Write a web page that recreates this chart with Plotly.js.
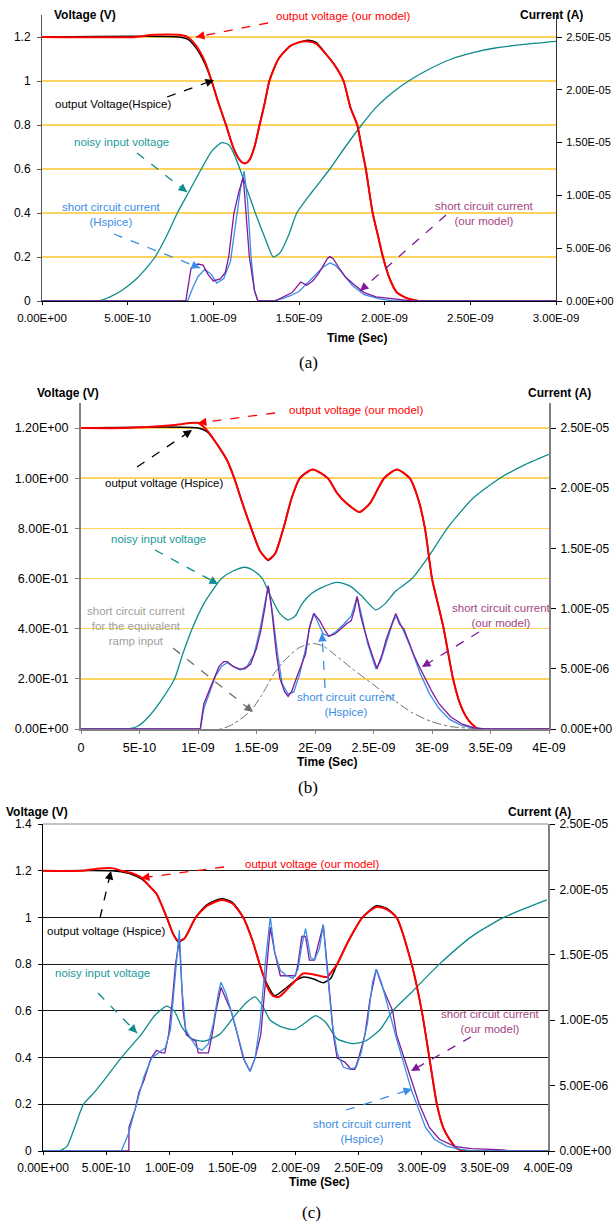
<!DOCTYPE html>
<html>
<head>
<meta charset="utf-8">
<script src="https://cdn.plot.ly/plotly-3.0.1.min.js"></script>
<style>html,body{margin:0;padding:0;background:#fff;}#chart{width:616px;height:1222px;}</style>
</head>
<body>
<div id="chart"></div>
<script>
// ===================== DATA =====================
// time in ns, voltage in V, current in microamperes (µA)

// ---- Panel (a) ----
const tA_in   = [0,0.33,0.40,0.47,0.55,0.62,0.66,0.73,0.79,0.86,0.93,0.99,1.05,1.09,1.12,1.155,1.20,1.245,1.30,1.35,1.39,1.44,1.487,1.58,1.68,1.77,1.865,1.95,2.05,2.14,2.25,2.39,2.52,2.645,2.80,3.0];
const vA_in   = [0,0,0.02,0.05,0.1,0.16,0.2,0.3,0.4,0.5,0.6,0.68,0.72,0.71,0.67,0.6,0.5,0.4,0.29,0.2,0.22,0.3,0.4,0.5,0.6,0.7,0.8,0.88,0.95,1.0,1.05,1.1,1.13,1.15,1.165,1.18];
const tA_outModel = [0,0.55,0.65,0.80,0.85,0.90,0.95,0.99,1.03,1.074,1.12,1.16,1.185,1.21,1.24,1.27,1.30,1.327,1.38,1.45,1.52,1.555,1.60,1.66,1.71,1.76,1.80,1.84,1.865,1.89,1.93,1.96,1.99,2.03,2.07,2.11,2.14,2.2,3.0];
const vA_outModel = [1.2,1.2,1.21,1.21,1.2,1.16,1.09,1.0,0.9,0.8,0.69,0.635,0.625,0.64,0.7,0.8,0.9,1.0,1.1,1.16,1.18,1.18,1.17,1.12,1.07,1.0,0.88,0.8,0.7,0.6,0.4,0.3,0.2,0.1,0.04,0.02,0.01,0,0];
const tA_outHsp = [0,0.80,0.85,0.90,0.95,0.99,1.03,1.074,1.12,1.16,1.185,1.21,1.24,1.27,1.30,1.327,1.38,1.45,1.52,1.555,1.60,1.66,1.71,1.76,1.80,1.84,1.865,1.89,1.93,1.96,1.99,2.03,2.07,2.11,2.14,2.2,3.0];
const vA_outHsp = [1.2,1.2,1.19,1.15,1.08,1.0,0.9,0.8,0.69,0.635,0.625,0.64,0.7,0.8,0.9,1.0,1.1,1.16,1.18,1.185,1.175,1.12,1.07,1.0,0.88,0.8,0.7,0.6,0.4,0.3,0.2,0.1,0.04,0.02,0.01,0,0];
const tA_iModel = [0,0.84,0.845,0.87,0.89,0.91,0.94,0.97,1.0,1.04,1.07,1.09,1.12,1.15,1.175,1.19,1.21,1.24,1.26,1.36,1.41,1.46,1.51,1.545,1.58,1.61,1.64,1.665,1.68,1.70,1.735,1.77,1.81,1.88,1.95,2.05,2.16,3.0];
const iA_iModel = [0,0,0.6,3.1,3.3,3.5,3.4,2.5,1.9,2.1,2.7,4.2,8.3,10.4,11.7,8.3,4.2,1.0,0,0,0.4,0.8,1.8,1.5,1.9,2.5,3.3,4.0,4.2,4.0,3.1,2.3,1.7,0.8,0.4,0.2,0,0];
const tA_iHsp = [0,0.85,0.88,0.91,0.95,0.99,1.02,1.06,1.10,1.13,1.16,1.18,1.20,1.22,1.24,1.26,1.35,1.40,1.45,1.50,1.55,1.60,1.64,1.68,1.71,1.74,1.78,1.81,1.88,1.97,2.05,3.0];
const iA_iHsp = [0,0,1.25,2.3,3.0,2.5,1.7,2.1,3.75,7.3,10.8,12.3,9.4,4.2,1.0,0,0,0.2,0.5,0.9,1.7,2.5,3.2,3.6,3.4,2.9,2.1,1.5,0.6,0.2,0,0];

// ---- Panel (b) ----
const tB_in = [0,0.38,0.48,0.58,0.68,0.80,0.87,0.95,1.05,1.12,1.2,1.3,1.40,1.48,1.55,1.62,1.70,1.77,1.83,1.89,1.97,2.06,2.19,2.30,2.40,2.52,2.60,2.69,2.83,2.96,3.13,3.35,3.58,3.8,4.0];
const vB_in = [0,0,0.01,0.05,0.11,0.2,0.3,0.4,0.5,0.55,0.6,0.63,0.645,0.63,0.6,0.53,0.46,0.435,0.45,0.5,0.54,0.565,0.585,0.57,0.53,0.475,0.5,0.55,0.6,0.68,0.8,0.92,1.0,1.055,1.095];
const tB_outModel = [0,0.38,0.6,0.8,1.0,1.08,1.185,1.25,1.31,1.38,1.455,1.53,1.60,1.66,1.73,1.80,1.87,1.98,2.11,2.19,2.27,2.38,2.47,2.59,2.70,2.81,2.88,2.94,3.0,3.05,3.10,3.18,3.24,3.29,3.34,3.40,4.0];
const vB_outModel = [1.2,1.2,1.205,1.212,1.22,1.19,1.12,1.07,1.0,0.9,0.8,0.71,0.675,0.7,0.8,0.92,1.0,1.035,1.0,0.94,0.9,0.865,0.9,1.0,1.035,1.0,0.92,0.8,0.6,0.5,0.4,0.2,0.1,0.05,0.02,0,0];
const tB_outHsp = [0,1.0,1.08,1.185,1.25,1.31,1.38,1.455,1.53,1.60,1.66,1.73,1.80,1.87,1.98,2.11,2.19,2.27,2.38,2.47,2.59,2.70,2.81,2.88,2.94,3.0,3.05,3.10,3.18,3.24,3.29,3.34,3.40,4.0];
const vB_outHsp = [1.2,1.2,1.185,1.12,1.07,1.0,0.9,0.8,0.71,0.672,0.7,0.8,0.92,1.0,1.035,1.0,0.94,0.9,0.865,0.9,1.0,1.035,1.0,0.92,0.8,0.6,0.5,0.4,0.2,0.1,0.05,0.02,0,0];
const tB_iModel = [0,1.02,1.03,1.05,1.10,1.14,1.18,1.22,1.25,1.30,1.35,1.40,1.45,1.50,1.54,1.57,1.60,1.625,1.645,1.67,1.70,1.74,1.77,1.80,1.84,1.88,1.92,1.95,1.99,2.04,2.09,2.12,2.17,2.22,2.27,2.31,2.34,2.36,2.39,2.42,2.47,2.53,2.575,2.61,2.64,2.69,2.72,2.76,2.80,2.84,2.89,2.94,3.0,3.06,3.16,3.26,3.36,3.46,4.0];
const iB_iModel = [0,0,0.8,2.1,3.3,4.2,5.2,5.6,5.6,5.2,5.0,5.0,5.4,6.7,8.3,10.0,11.9,10.4,8.3,6.25,4.2,3.1,2.7,3.1,4.2,5.2,6.25,8.3,9.6,9.0,8.1,7.7,7.9,8.3,8.75,9.0,10.0,11.0,9.4,8.3,6.7,5.0,6.25,7.5,8.3,9.6,8.75,8.3,7.3,6.25,5.2,4.2,3.1,2.1,1.0,0.4,0.1,0,0];
const tB_iHsp = [0,1.02,1.05,1.10,1.15,1.20,1.25,1.30,1.36,1.42,1.48,1.53,1.57,1.60,1.64,1.68,1.72,1.77,1.82,1.87,1.92,1.96,1.99,2.03,2.07,2.12,2.18,2.25,2.31,2.36,2.40,2.45,2.52,2.56,2.62,2.67,2.70,2.75,2.82,2.90,2.98,3.06,3.15,3.25,3.35,3.45,4.0];
const iB_iHsp = [0,0,1.7,3.1,4.4,5.2,5.5,5.2,4.9,5.2,6.25,8.3,10.4,11.9,9.4,6.25,3.75,2.9,3.1,4.6,6.7,8.75,9.6,8.75,7.9,7.7,8.1,8.75,9.4,11.0,9.4,7.1,5.0,5.6,7.5,9.0,9.4,8.3,6.7,4.6,2.9,1.7,0.8,0.3,0.1,0,0];
const tB_iRamp = [0,1.19,1.3,1.45,1.55,1.65,1.75,1.855,1.93,1.99,2.07,2.16,2.32,2.49,2.66,2.83,3.0,3.16,3.33,3.5];
const iB_iRamp = [0,0,0.4,1.5,2.9,4.6,5.8,6.7,7.0,7.1,6.9,6.25,5.0,3.75,2.5,1.35,0.6,0.2,0.06,0];

// ---- Panel (c) ----
const tC_in = [0,0.125,0.19,0.25,0.32,0.405,0.48,0.62,0.78,0.885,0.98,1.04,1.10,1.18,1.275,1.40,1.52,1.62,1.68,1.74,1.80,1.895,1.99,2.08,2.16,2.24,2.33,2.455,2.55,2.67,2.77,2.92,3.14,3.4,3.65,3.99];
const vC_in = [0,0,0.02,0.1,0.2,0.25,0.3,0.4,0.5,0.58,0.62,0.6,0.53,0.48,0.47,0.5,0.58,0.64,0.66,0.62,0.56,0.53,0.52,0.55,0.58,0.55,0.48,0.46,0.47,0.52,0.6,0.68,0.8,0.92,1.0,1.075];
const tC_outModel = [0,0.3,0.45,0.56,0.62,0.70,0.78,0.85,0.90,0.98,1.03,1.07,1.12,1.21,1.30,1.415,1.50,1.586,1.66,1.716,1.77,1.82,1.87,1.93,2.0,2.06,2.15,2.25,2.29,2.33,2.42,2.53,2.64,2.72,2.80,2.92,3.0,3.06,3.12,3.17,3.22,3.28,3.36,4.0];
const vC_outModel = [1.2,1.2,1.21,1.21,1.2,1.19,1.17,1.13,1.1,1.0,0.93,0.9,0.91,1.0,1.05,1.075,1.06,1.0,0.9,0.8,0.71,0.665,0.66,0.69,0.73,0.76,0.755,0.745,0.77,0.8,0.9,1.0,1.045,1.035,1.0,0.8,0.6,0.4,0.2,0.1,0.05,0.01,0,0];
const tC_outHsp = [0,0.55,0.62,0.70,0.78,0.85,0.90,0.98,1.03,1.07,1.12,1.21,1.30,1.415,1.50,1.586,1.66,1.716,1.77,1.835,1.93,2.0,2.07,2.15,2.22,2.28,2.33,2.42,2.53,2.64,2.72,2.80,2.92,3.0,3.06,3.12,3.17,3.22,3.28,3.36,4.0];
const vC_outHsp = [1.2,1.2,1.195,1.185,1.165,1.13,1.1,1.0,0.93,0.895,0.91,1.0,1.055,1.08,1.065,1.0,0.9,0.8,0.72,0.665,0.7,0.73,0.745,0.735,0.72,0.74,0.8,0.9,1.0,1.05,1.04,1.0,0.8,0.6,0.4,0.2,0.1,0.05,0.01,0,0];
const tC_iModel = [0,0.68,0.681,0.73,0.76,0.80,0.855,0.90,0.94,0.965,0.995,1.02,1.05,1.08,1.11,1.135,1.17,1.21,1.23,1.31,1.34,1.37,1.41,1.45,1.49,1.54,1.586,1.64,1.68,1.725,1.76,1.80,1.835,1.88,1.93,2.0,2.02,2.05,2.08,2.11,2.15,2.19,2.22,2.25,2.28,2.30,2.33,2.39,2.44,2.47,2.50,2.55,2.59,2.64,2.69,2.77,2.80,2.86,2.92,2.98,3.06,3.14,3.26,3.39,3.64,3.7,4.0];
const iC_iModel = [0,0,1.8,3.2,4.5,5.4,7.1,7.7,7.5,7.5,8.9,11.1,14.3,16.1,10.7,8.9,8.6,8.4,7.5,7.5,8.9,10.7,12.5,11.6,10.7,8.9,7.1,6.1,7.1,8.9,12.5,17.1,15.2,13.4,13.4,13.4,14.3,16.4,16.4,14.6,14.6,16.1,17.3,14.3,10.7,8.9,7.1,6.8,6.25,6.25,7.1,8.9,11.6,13.9,12.5,10.7,8.9,7.1,5.4,3.6,1.8,0.9,0.36,0.18,0.09,0,0];
const tC_iHsp = [0,0.62,0.68,0.74,0.80,0.86,0.92,0.97,1.01,1.04,1.06,1.08,1.10,1.13,1.17,1.22,1.26,1.31,1.35,1.39,1.41,1.45,1.50,1.55,1.60,1.64,1.68,1.72,1.76,1.80,1.835,1.88,1.93,1.98,2.02,2.05,2.08,2.12,2.15,2.19,2.22,2.25,2.29,2.33,2.38,2.43,2.48,2.52,2.57,2.61,2.64,2.68,2.74,2.80,2.86,2.92,2.96,3.03,3.1,3.2,3.3,3.4,4.0];
const iC_iHsp = [0,0,1.4,3.6,5.7,7.1,7.5,7.9,9.3,12.5,15.2,16.9,12.5,9.3,8.6,7.9,7.7,8.2,9.8,12.1,12.9,12.0,10.4,8.6,6.8,6.1,7.1,9.8,14.3,17.9,15.2,13.8,13.4,13.2,13.9,15.7,17.0,14.8,14.6,15.5,17.3,13.9,9.8,7.5,6.4,6.25,6.4,7.5,9.8,12.9,13.9,12.9,10.7,8.6,6.6,4.6,3.6,1.8,0.9,0.36,0.14,0,0];

// ---- Tick labels ----
const xTickA = [0,0.5,1,1.5,2,2.5,3];
const xTextA = ["0.00E+00","5.00E-10","1.00E-09","1.50E-09","2.00E-09","2.50E-09","3.00E-09"];
const xTickBC = [0,0.5,1,1.5,2,2.5,3,3.5,4];
const xTextB = ["0","5E-10","1E-09","1.5E-09","2E-09","2.5E-09","3E-09","3.5E-09","4E-09"];
const xTextC = ["0.00E+00","5.00E-10","1.00E-09","1.50E-09","2.00E-09","2.50E-09","3.00E-09","3.50E-09","4.00E-09"];
const vTickAB = [0,0.2,0.4,0.6,0.8,1.0,1.2];
const vTextA = ["0","0.2","0.4","0.6","0.8","1","1.2"];
const vTextB = ["0.00E+00","2.00E-01","4.00E-01","6.00E-01","8.00E-01","1.00E+00","1.20E+00"];
const vTickC = [0,0.2,0.4,0.6,0.8,1.0,1.2,1.4];
const vTextC = ["0","0.2","0.4","0.6","0.8","1","1.2","1.4"];
const iTick = [0,5,10,15,20,25];
const iText = ["0.00E+00","5.00E-06","1.00E-05","1.50E-05","2.00E-05","2.50E-05"];

// ===================== LAYOUT HELPERS =====================
const W = 616, H = 1222;
const FONT = "Liberation Sans, Arial, sans-serif";
const C = {red:"#FF0000", black:"#000000", teal:"#0E8C8C", tealTxt:"#1C9A9A", blue:"#3A8DE6", purple:"#7F1A9A", purpleTxt:"#A4457F", gray:"#6E6E6E", grayTxt:"#A0A0A0", gold:"#FFD45E"};
const fx = x => x / W, fy = y => 1 - y / H;

const traces = [];
function line(x, y, xa, ya, color, width, shape, dash) {
  traces.push({x, y, xaxis: xa, yaxis: ya, type: "scatter", mode: "lines", showlegend: false, hoverinfo: "skip",
    line: {color, width, shape: shape || "linear", smoothing: 0.6, dash: dash || "solid"}});
}
// (a)
line(tA_in, vA_in, "x", "y", C.teal, 1.3, "spline");
line(tA_iHsp, iA_iHsp, "x", "y2", C.blue, 1.3);
line(tA_iModel, iA_iModel, "x", "y2", C.purple, 1.3);
line(tA_outHsp, vA_outHsp, "x", "y", C.black, 1.5, "spline");
line(tA_outModel, vA_outModel, "x", "y", C.red, 2, "spline");
// (b)
line(tB_in, vB_in, "x2", "y3", C.teal, 1.3, "spline");
line(tB_iRamp, iB_iRamp, "x2", "y4", C.gray, 1, "spline", "dashdot");
line(tB_iHsp, iB_iHsp, "x2", "y4", C.blue, 1.3);
line(tB_iModel, iB_iModel, "x2", "y4", C.purple, 1.3);
line(tB_outHsp, vB_outHsp, "x2", "y3", C.black, 1.5, "spline");
line(tB_outModel, vB_outModel, "x2", "y3", C.red, 2, "spline");
// (c)
line(tC_in, vC_in, "x3", "y5", C.teal, 1.3, "spline");
line(tC_iModel, iC_iModel, "x3", "y6", C.purple, 1.3);
line(tC_iHsp, iC_iHsp, "x3", "y6", C.blue, 1.3);
line(tC_outHsp, vC_outHsp, "x3", "y5", C.black, 1.5, "spline");
line(tC_outModel, vC_outModel, "x3", "y5", C.red, 2, "spline");

const tickFont = s => ({family: FONT, size: s, color: "#000"});
function xAxis(l, r, anchor, vals, text, lineColor, lw, fs) {
  return {domain: [fx(l), fx(r)], range: [0, vals[vals.length-1]], anchor, tickmode: "array", tickvals: vals, ticktext: text,
    showgrid: false, zeroline: false, showline: true, linecolor: lineColor, linewidth: lw, ticks: "outside", ticklen: 3,
    tickcolor: lineColor, tickfont: tickFont(fs), ticklabelstandoff: 3, fixedrange: true};
}
function yAxis(top, bottom, anchor, rangeMax, vals, text, grid, lineColor, lw, fs) {
  return {domain: [fy(bottom), fy(top)], range: [0, rangeMax], anchor, tickmode: "array", tickvals: vals, ticktext: text,
    showgrid: true, gridcolor: grid, gridwidth: 1.5, zeroline: false, showline: true, linecolor: lineColor, linewidth: lw,
    ticks: "outside", ticklen: 4, tickcolor: lineColor, tickfont: tickFont(fs), ticklabelstandoff: 4, fixedrange: true};
}
function yRight(overlay, anchor, rangeMax, lineColor, lw, fs) {
  return {overlaying: overlay, anchor, side: "right", range: [0, rangeMax], tickmode: "array", tickvals: iTick, ticktext: iText,
    showgrid: false, zeroline: false, showline: true, linecolor: lineColor, linewidth: lw, ticks: "outside", ticklen: 5,
    tickcolor: "#000", tickfont: tickFont(fs), ticklabelstandoff: 2, fixedrange: true};
}

const annotations = [], shapes = [];
function text(t, x, y, color, size, bold, family) {
  annotations.push({xref: "paper", yref: "paper", x: fx(x), y: fy(y), text: bold ? "<b>" + t + "</b>" : t, showarrow: false,
    xanchor: "center", yanchor: "middle", align: "center", font: {family: family || FONT, size, color}});
}
function arrow(tx, ty, hx, hy, color) {
  shapes.push({type: "line", xref: "paper", yref: "paper", x0: fx(tx), y0: fy(ty), x1: fx(hx), y1: fy(hy),
    line: {color, width: 1.3, dash: "dash"}});
  const L = Math.hypot(tx - hx, ty - hy);
  annotations.push({xref: "paper", yref: "paper", x: fx(hx), y: fy(hy), ax: (tx - hx) / L * 9, ay: (ty - hy) / L * 9,
    text: "", showarrow: true, arrowhead: 2, arrowsize: 1.3, arrowwidth: 1.3, arrowcolor: color, standoff: 0});
}

// Panel (a) texts
text("Voltage (V)", 85, 15, "#000", 12, true);
text("Current (A)", 551, 15, "#000", 12, true);
text("Time (Sec)", 357, 338, "#000", 12, true);
text("(a)", 308, 363, "#000", 17, false, "Liberation Serif, Times New Roman, serif");
text("output voltage (our model)", 343, 16, C.red, 11.5);
text("output Voltage(Hspice)", 113, 104, "#000", 11.5);
text("noisy input voltage", 121, 142, C.tealTxt, 11.5);
text("short circuit current<br>(Hspice)", 111, 214, C.blue, 11.5);
text("short circuit current<br>(our model)", 484, 213, C.purpleTxt, 11.5);
arrow(268, 23, 196, 37, C.red);
arrow(167, 97, 214, 80, "#000");
arrow(137, 153, 187, 192, C.teal);
arrow(114, 234, 200, 268, C.blue);
arrow(446, 215, 360, 291, C.purple);

// Panel (b) texts
text("Voltage (V)", 68, 393, "#000", 12, true);
text("Current (A)", 559, 393, "#000", 12, true);
text("Time (Sec)", 327, 762, "#000", 12, true);
text("(b)", 308, 787, "#000", 17, false, "Liberation Serif, Times New Roman, serif");
text("output voltage (our model)", 356, 410, C.red, 11.5);
text("output voltage (Hspice)", 164, 483, "#000", 11.5);
text("noisy input voltage", 158, 539, C.tealTxt, 11.5);
text("short circuit current<br>for the equivalent<br>ramp input", 136, 626, C.grayTxt, 11.5);
text("short circuit current<br>(Hspice)", 346, 704, C.blue, 11.5);
text("short circuit current<br>(our model)", 501, 615, C.purpleTxt, 11.5);
arrow(275, 413, 198, 423, C.red);
arrow(137, 467, 192, 430, "#000");
arrow(155, 550, 218, 584, C.teal);
arrow(173, 648, 253, 712, C.gray);
arrow(325, 688, 322, 633, C.blue);
arrow(479, 632, 422, 667, C.purple);

// Panel (c) texts
text("Voltage (V)", 37, 812, "#000", 12, true);
text("Current (A)", 539, 812, "#000", 12, true);
text("Time (Sec)", 319, 1182, "#000", 12, true);
text("(c)", 312, 1212, "#000", 17, false, "Liberation Serif, Times New Roman, serif");
text("output voltage (our model)", 312, 864, C.red, 11.5);
text("output voltage (Hspice)", 106, 931, "#000", 11.5);
text("noisy input voltage", 102, 973, C.tealTxt, 11.5);
text("short circuit current<br>(our model)", 490, 1021, C.purpleTxt, 11.5);
text("short circuit current<br>(Hspice)", 362, 1131, C.blue, 11.5);
arrow(224, 867, 141, 878, C.red);
arrow(100, 918, 111, 871, "#000");
arrow(98, 993, 137, 1033, C.teal);
arrow(471, 1037, 411, 1071, C.purple);
arrow(346, 1110, 412, 1089, C.blue);

// light top border line in panel (c)
shapes.push({type: "line", xref: "paper", yref: "paper", x0: fx(43), x1: fx(548), y0: fy(824), y1: fy(824), line: {color: "#C4C4C4", width: 2}});

const layout = {
  width: W, height: H, margin: {l: 0, r: 0, t: 0, b: 0}, paper_bgcolor: "#fff", plot_bgcolor: "#fff",
  showlegend: false, font: {family: FONT, size: 12, color: "#000"},
  xaxis:  xAxis(42, 556, "y", xTickA, xTextA, "#000", 1, 11.5),
  yaxis:  yAxis(15, 301, "x", 1.3, vTickAB, vTextA, C.gold, "#555", 1, 12),
  yaxis2: yRight("y", "x", 25 * 1.3 / 1.2, "#333", 1, 11),
  xaxis2: xAxis(81, 549, "y3", xTickBC, xTextB, "#808080", 2, 12.5),
  yaxis3: yAxis(403, 729, "x2", 1.3, vTickAB, vTextB, C.gold, "#808080", 2, 12.5),
  yaxis4: yRight("y3", "x2", 25 * 1.3 / 1.2, "#808080", 2, 12),
  xaxis3: xAxis(43, 548, "y5", xTickBC, xTextC, "#000", 1, 12),
  yaxis5: yAxis(824, 1151, "x3", 1.4, vTickC, vTextC, "#1A1A1A", "#000", 1, 12),
  yaxis6: yRight("y5", "x3", 25, "#808080", 2, 12),
  annotations, shapes
};
layout.yaxis5.gridwidth = 1;

Plotly.newPlot("chart", traces, layout, {displayModeBar: false, staticPlot: true});
</script>
</body>
</html>
